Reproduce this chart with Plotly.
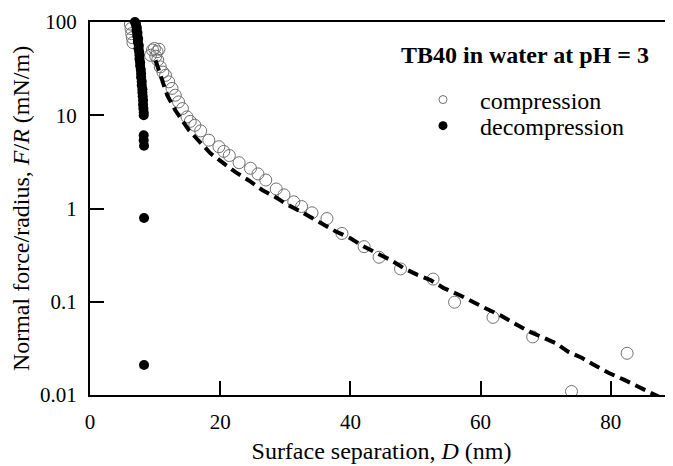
import plotly.graph_objects as go

# ---- data ----
comp_D = [6.2, 6.3, 6.4, 6.5, 6.6,
          9.3, 9.6, 9.9, 10.3, 10.6, 10.1, 10.4,
          10.8, 11.2, 11.6, 12.1, 12.6, 13.1, 13.6, 14.2, 14.9,
          15.4, 16.1, 17.0, 18.25, 19.8, 20.55, 21.4, 22.9, 24.65, 25.8,
          27.0, 28.6, 29.8, 31.3, 32.5, 34.1, 36.4, 38.7, 42.1, 44.4,
          47.7, 52.7, 56.0, 61.9, 68.0, 73.96, 82.5]
comp_F = [95, 85, 75, 68, 60,
          44, 50, 52, 48, 51, 43, 39,
          33, 29, 26.8, 22.8, 19.4, 16.4, 13.9, 11.8, 9.6,
          8.6, 7.8, 6.8, 5.4, 4.6, 4.1, 3.7, 3.1, 2.7, 2.35,
          2.02, 1.62, 1.40, 1.18, 1.05, 0.90, 0.78, 0.54, 0.39, 0.30,
          0.225, 0.175, 0.099, 0.068, 0.042, 0.0109, 0.028]

decomp_D = [6.9, 7.05, 7.1, 7.2, 7.15, 7.3, 7.25, 7.4, 7.35, 7.5, 7.45, 7.55,
            7.6, 7.6, 7.7, 7.7, 7.8, 7.85, 7.85, 7.95, 7.95, 8.05, 8.05,
            8.1, 8.15, 8.15, 8.2, 8.25, 8.25, 8.25, 8.25, 8.3, 8.3, 8.3]
decomp_F = [100, 96, 91, 86, 81, 76, 71, 66, 61, 56, 52, 48,
            44, 40, 37, 34, 31, 28, 25.5, 23, 21, 19, 17.5,
            16, 14.5, 13, 11.8, 10.7, 10, 6.1, 5.4, 4.7, 0.79, 0.021]

fit_D = [10.06, 11.86, 13.1, 14.3, 15.2, 18.5, 20.55, 22.35, 24.4, 26.45,
         28.75, 30.0, 32.1, 34.4, 36.2, 37.7, 40.0, 42.06, 44.1, 46.2,
         48.2, 50.3, 52.3, 54.35, 56.65, 58.7, 60.75, 63.1, 65.1, 67.4,
         69.7, 71.5, 73.5, 75.6, 77.65, 79.7, 82.0, 84.05, 86.4, 87.5]
fit_F = [38.9, 16.4, 11.3, 8.7, 6.9, 3.9, 3.05, 2.45, 2.0, 1.58,
         1.29, 1.13, 0.95, 0.77, 0.65, 0.57, 0.48, 0.39, 0.33, 0.28,
         0.229, 0.194, 0.171, 0.14, 0.119, 0.1, 0.085, 0.071, 0.059, 0.048,
         0.041, 0.036, 0.029, 0.0249, 0.0206, 0.0172, 0.0146, 0.0124, 0.0105, 0.0095]

x_ticks = [0, 20, 40, 60, 80]
y_ticks = [0.01, 0.1, 1, 10, 100]
y_tick_text = ["0.01", "0.1", "1", "10", "100"]

FONT = "Liberation Serif"

fig = go.Figure()
fig.add_trace(go.Scatter(
    x=comp_D, y=comp_F, mode="markers", showlegend=False,
    marker=dict(symbol="circle-open", size=12, color="#707070", line=dict(width=1, color="#707070")),
))
fig.add_trace(go.Scatter(
    x=fit_D, y=fit_F, mode="lines", showlegend=False,
    line=dict(color="black", width=4, dash="11px,6px"),
))
fig.add_trace(go.Scatter(
    x=decomp_D, y=decomp_F, mode="markers", showlegend=False, cliponaxis=False,
    marker=dict(symbol="circle", size=10, color="black"),
))
# legend entries (one legend each, to control spacing)
fig.add_trace(go.Scatter(
    x=[None], y=[None], mode="markers", name="compression", legend="legend",
    marker=dict(symbol="circle-open", size=8, color="#707070", line=dict(width=1, color="#707070")),
))
fig.add_trace(go.Scatter(
    x=[None], y=[None], mode="markers", name="decompression", legend="legend2",
    marker=dict(symbol="circle", size=9, color="black"),
))

fig.add_annotation(
    text="<b>TB40 in water at pH = 3</b>", xref="paper", yref="paper",
    x=0.746, y=0.9115, xanchor="center", yanchor="middle", showarrow=False,
    font=dict(family=FONT, size=24, color="black"),
)

legend_common = dict(
    xanchor="left", yanchor="middle", bgcolor="rgba(0,0,0,0)",
    font=dict(family=FONT, size=24), itemwidth=64,
)

# the page body adds an 8 px offset, so the figure is 8 px smaller
fig.update_layout(
    width=665, height=458,
    margin=dict(l=82, r=0, t=14, b=71),
    paper_bgcolor="white", plot_bgcolor="white",
    font=dict(family=FONT, color="black", size=21),
    legend=dict(x=0.542, y=0.791, **legend_common),
    legend2=dict(x=0.542, y=0.721, **legend_common),
    xaxis=dict(
        range=[0, 89.55], tickvals=x_ticks, ticks="inside", ticklen=14, tickwidth=2,
        tickcolor="black", showline=True, linewidth=2, linecolor="black", mirror=True,
        showgrid=False, zeroline=False, ticklabelstandoff=7, automargin=False,
        tickfont=dict(family=FONT, size=21),
        title=dict(text="Surface separation, <i>D</i> (nm)", font=dict(family=FONT, size=24), standoff=9),
    ),
    yaxis=dict(
        type="log", range=[-2, 2], tickvals=y_ticks, ticktext=y_tick_text,
        ticks="inside", ticklen=14, tickwidth=2, tickcolor="black",
        showline=True, linewidth=2, linecolor="black", showgrid=False, zeroline=False,
        ticklabelstandoff=7, automargin=False, tickfont=dict(family=FONT, size=21),
        title=dict(text="Normal force/radius, <i>F</i>/<i>R</i> (mN/m)", font=dict(family=FONT, size=24), standoff=6),
    ),
)

fig.write_html("out.html")
